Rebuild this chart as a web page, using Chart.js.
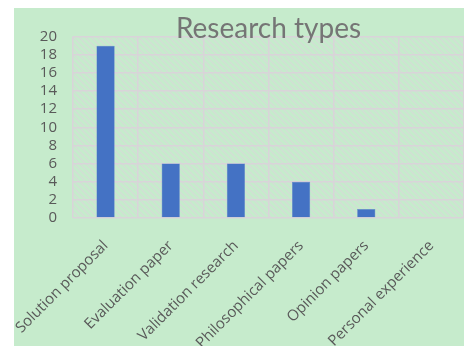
<!DOCTYPE html>
<html>
<head>
<meta charset="utf-8">
<script src="https://cdn.jsdelivr.net/npm/chart.js@4"></script>
<style>
  html, body { margin: 0; padding: 0; background: #fff; }
  #wrap { position: absolute; left: 14px; top: 8px; width: 450px; height: 338px; background: #c6ebcc; }
</style>
</head>
<body>
<div id="wrap"><canvas id="c"></canvas></div>
<script>
/* Research types — bar chart */
const categories = ["Solution proposal", "Evaluation paper", "Validation research", "Philosophical papers", "Opinion papers", "Personal experience"];
const counts = [19, 6, 6, 4, 1, 0];
const yTicks = [0, 2, 4, 6, 8, 10, 12, 14, 16, 18, 20];

const GRID = "#d9d4d9", HATCH = "#d4dcd6", TXT = "#595959";

// diagonal hatch behind the plot area
function hatchPattern(ctx) {
  const p = document.createElement("canvas");
  p.width = 6; p.height = 6;
  const g = p.getContext("2d");
  g.strokeStyle = HATCH; g.lineWidth = 1.2;
  g.beginPath();
  g.moveTo(0, 0); g.lineTo(6, 6);
  g.moveTo(-3, 3); g.lineTo(3, 9);
  g.moveTo(3, -3); g.lineTo(9, 3);
  g.stroke();
  return ctx.createPattern(p, "repeat");
}
const hatch = {
  id: "hatch",
  beforeDraw(chart) {
    const { ctx, chartArea: a } = chart;
    ctx.save();
    ctx.fillStyle = hatchPattern(ctx);
    ctx.fillRect(a.left, a.top, a.right - a.left, a.bottom - a.top);
    ctx.restore();
  }
};

new Chart(document.getElementById("c"), {
  type: "bar",
  data: { labels: categories, datasets: [{ data: counts, backgroundColor: "#4472c4", borderColor: "#5a82cc", borderWidth: 0.5,
    barPercentage: 0.28, categoryPercentage: 1 }] },
  options: {
    responsive: true, maintainAspectRatio: false, animation: false,
    layout: { padding: { left: 10, right: 0, top: 4, bottom: 0 } },
    plugins: {
      legend: { display: false }, tooltip: { enabled: false },
      title: { display: true, fullSize: false, text: "Research types", color: "#757575",
        font: { family: "Lato", size: 28, weight: "normal" }, padding: { top: 0, bottom: -9 } }
    },
    scales: {
      x: {
        grid: { color: GRID, lineWidth: 1.5, drawTicks: false, offset: true },
        border: { display: false },
        ticks: { color: TXT, font: { family: "Open Sans", size: 15 }, minRotation: 45, maxRotation: 45, padding: 19, autoSkip: false },
        afterFit(s) { s.height = 128; s.paddingLeft = 0; s.paddingRight = 0; }
      },
      y: {
        min: 0, max: 20,
        afterBuildTicks(s) { s.ticks = yTicks.map(v => ({ value: v })); },
        grid: { color: GRID, lineWidth: 1.5, drawTicks: false },
        border: { display: false },
        ticks: { color: TXT, font: { family: "Open Sans", size: 15 }, padding: 16, autoSkip: false },
        afterFit(s) { s.width = 49; }
      }
    }
  },
  plugins: [hatch]
});
</script>
</body>
</html>
